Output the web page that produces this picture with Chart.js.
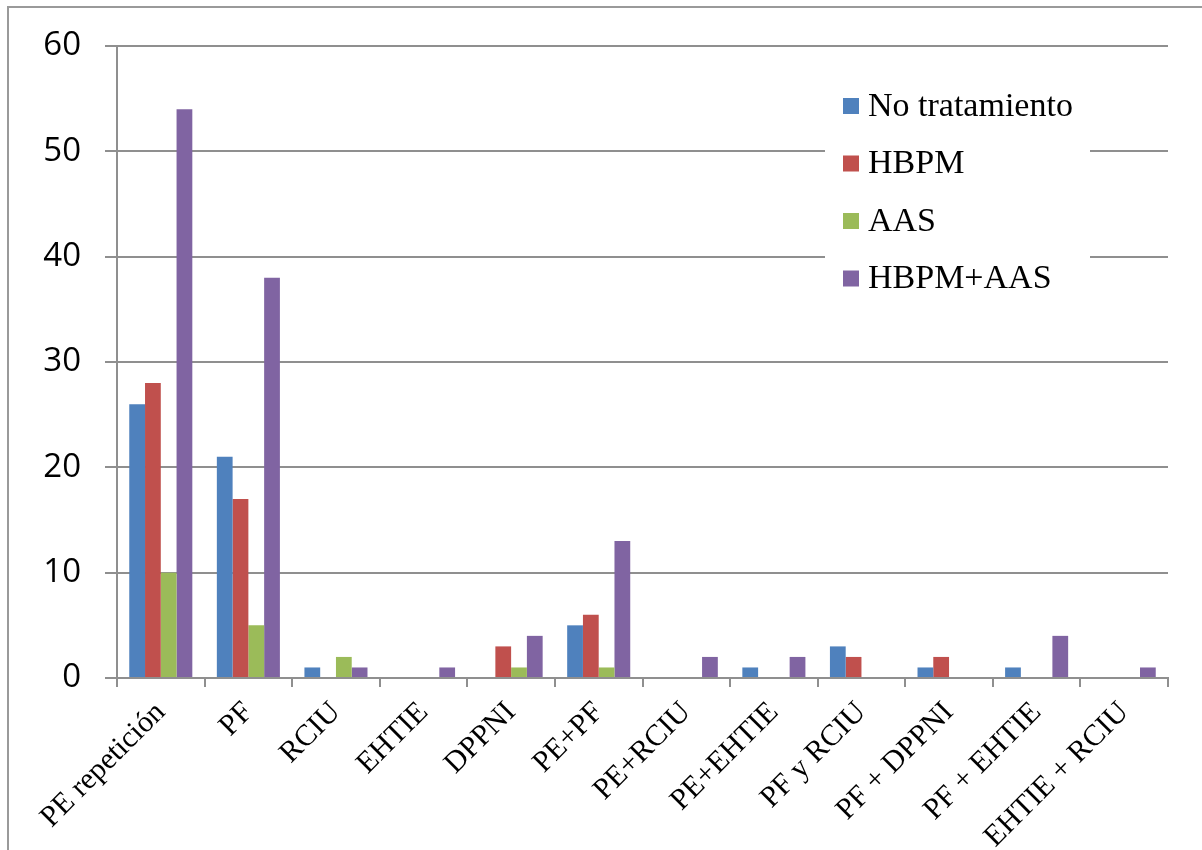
<!DOCTYPE html>
<html>
<head>
<meta charset="utf-8">
<script src="https://cdn.jsdelivr.net/npm/chart.js@4/dist/chart.umd.min.js"></script>
<style>
  html, body { margin: 0; padding: 0; background: #fff; }
  #wrap { width: 1202px; height: 850px; position: relative; }
</style>
</head>
<body>
<div id="wrap"><canvas id="c"></canvas></div>
<script>
// Complicaciones obstétricas por grupo de tratamiento
const categories = ['PE repetición', 'PF', 'RCIU', 'EHTIE', 'DPPNI', 'PE+PF', 'PE+RCIU', 'PE+EHTIE', 'PF y RCIU', 'PF + DPPNI', 'PF + EHTIE', 'EHTIE + RCIU'];
const seriesNames = ['No tratamiento', 'HBPM', 'AAS', 'HBPM+AAS'];
const noTratamiento = [26, 21, 1, 0, 0, 5, 0, 1, 3, 1, 1, 0];
const hbpm          = [28, 17, 0, 0, 3, 6, 0, 0, 2, 2, 0, 0];
const aas           = [10, 5, 2, 0, 1, 1, 0, 0, 0, 0, 0, 0];
const hbpmAas       = [54, 38, 1, 1, 4, 13, 2, 2, 0, 0, 4, 1];
const yTicks = [0, 10, 20, 30, 40, 50, 60];

const colors = ['#4F81BD', '#C0504D', '#9BBB59', '#8064A2'];
const gridColor = '#8f8f8f';
const serif = "'Liberation Serif', 'DejaVu Serif', serif";
const sans = "'Open Sans', 'Noto Sans', sans-serif";

// Outer frame of the chart object
const framePlugin = {
  id: 'frame',
  beforeDraw(chart) {
    const ctx = chart.ctx;
    ctx.save();
    ctx.strokeStyle = '#9a9a9a';
    ctx.lineWidth = 2;
    ctx.beginPath();
    ctx.moveTo(8, chart.height + 5);
    ctx.lineTo(8, 7);
    ctx.lineTo(chart.width + 5, 7);
    ctx.stroke();
    ctx.restore();
  }
};

// Legend drawn inside the plot area on a white panel
const insideLegend = {
  id: 'insideLegend',
  beforeDatasetsDraw(chart) {
    const ctx = chart.ctx;
    const a = chart.chartArea;
    const x0 = a.left + 708, y0 = a.top + 20;
    ctx.save();
    ctx.fillStyle = '#ffffff';
    ctx.fillRect(x0, y0, 265, 236);
    ctx.font = '34px ' + serif;
    ctx.textBaseline = 'middle';
    chart.data.datasets.forEach((ds, i) => {
      const cy = y0 + 40 + i * 57.5;
      ctx.fillStyle = ds.backgroundColor;
      ctx.fillRect(x0 + 18, cy - 8, 16, 16);
      ctx.fillStyle = '#000';
      ctx.fillText(ds.label, x0 + 43, cy + 1);
    });
    ctx.restore();
  }
};

const seriesData = [noTratamiento, hbpm, aas, hbpmAas];

new Chart(document.getElementById('c'), {
  type: 'bar',
  data: {
    labels: categories,
    datasets: seriesNames.map((name, i) => ({
      label: name,
      data: seriesData[i],
      backgroundColor: colors[i],
      borderWidth: 0,
      categoryPercentage: 0.72,
      barPercentage: 1.0
    }))
  },
  options: {
    responsive: true,
    maintainAspectRatio: false,
    animation: false,
    layout: { padding: { top: 46, right: 34, left: 0, bottom: 0 } },
    plugins: {
      legend: { display: false },
      tooltip: { enabled: false }
    },
    scales: {
      x: {
        offset: true,
        grid: {
          offset: true,
          drawOnChartArea: false,
          drawTicks: true,
          tickLength: 9,
          color: gridColor,
          lineWidth: 2
        },
        border: { display: true, color: gridColor, width: 2 },
        ticks: {
          autoSkip: false,
          maxRotation: 45,
          minRotation: 45,
          padding: 8,
          color: '#000',
          font: { family: serif, size: 30 }
        },
        afterFit(scale) { scale.height = 172; }
      },
      y: {
        min: 0,
        max: 60,
        afterBuildTicks(scale) { scale.ticks = yTicks.map(v => ({ value: v })); },
        grid: {
          drawTicks: true,
          tickLength: 12,
          color: gridColor,
          lineWidth: 2
        },
        border: { display: true, color: gridColor, width: 2 },
        ticks: {
          padding: 24,
          color: '#000',
          font: { family: sans, size: 33 }
        },
        afterFit(scale) { scale.width = 117; }
      }
    }
  },
  plugins: [framePlugin, insideLegend]
});
</script>
</body>
</html>
